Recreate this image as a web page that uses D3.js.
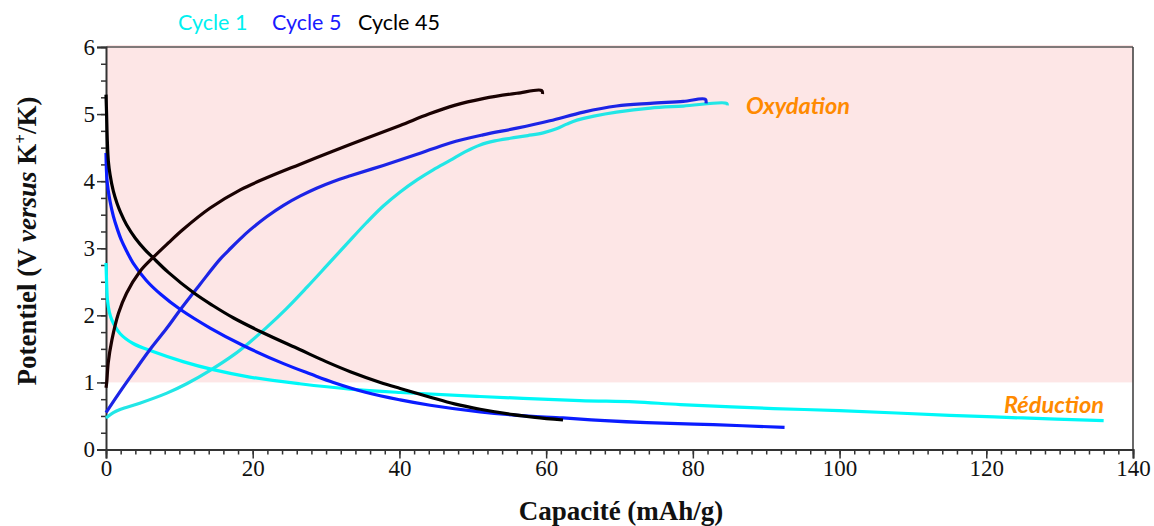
<!DOCTYPE html>
<html><head><meta charset="utf-8">
<script src="https://cdn.jsdelivr.net/npm/d3@7"></script>
<style>html,body{margin:0;padding:0;background:#fff;}</style>
</head><body>
<svg id="chart" width="1154" height="526"></svg>
<script>
// ---- data ----
const xTicks = [0, 20, 40, 60, 80, 100, 120, 140];
const yTicks = [0, 1, 2, 3, 4, 5, 6];
const legendLabels = ["Cycle 1", "Cycle 5", "Cycle 45"];

const cycle1Charge = [[0,0.47],[1,0.55],[2,0.60],[4.6,0.69],[8.3,0.84],[11,0.98],[14.2,1.18],[17.4,1.41],[19.6,1.60],[21.9,1.82],[24.6,2.10],[27.4,2.42],[30.1,2.74],[32.7,3.05],[35.5,3.38],[37.8,3.63],[40.1,3.84],[42.4,4.02],[44.6,4.17],[46.9,4.31],[49,4.44],[51,4.54],[53,4.60],[55.1,4.64],[57.5,4.68],[59.6,4.72],[61.4,4.78],[62.8,4.85],[64.2,4.91],[66.5,4.97],[69.6,5.03],[74.2,5.09],[78.7,5.12],[84.6,5.16],[84.7,5.13]];
const cycle1Discharge = [[0,2.78],[0.08,2.5],[0.2,2.23],[0.45,2.05],[0.8,1.93],[1.9,1.73],[3.7,1.58],[6.4,1.46],[10.5,1.31],[14.6,1.19],[19.6,1.08],[26.4,0.98],[33.3,0.90],[40.1,0.85],[51,0.79],[64.6,0.73],[72,0.71],[78.3,0.67],[91,0.61],[100,0.58],[115,0.51],[125,0.47],[136,0.43]];
const cycle5Charge = [[0,0.55],[1.9,0.86],[3.7,1.14],[6,1.49],[8.3,1.81],[10.3,2.11],[12.8,2.46],[15.5,2.83],[17,3.0],[18.3,3.14],[19.6,3.27],[21.9,3.47],[24.2,3.64],[26.5,3.78],[28.7,3.895],[31,3.995],[33.3,4.08],[37.8,4.235],[42.4,4.40],[46.9,4.57],[51.4,4.69],[56,4.79],[60.5,4.90],[65.1,5.03],[69.6,5.12],[74.2,5.16],[78.7,5.19],[81.7,5.22],[81.8,5.16]];
const cycle5Discharge = [[0,4.42],[0.15,4.0],[0.55,3.70],[1.0,3.48],[1.5,3.30],[2.1,3.12],[2.8,2.96],[3.7,2.78],[5.5,2.52],[7.5,2.31],[10.1,2.09],[14.2,1.81],[18.7,1.55],[24.2,1.28],[28,1.12],[31,1.0],[35.5,0.85],[40.1,0.74],[44.2,0.66],[51,0.56],[56,0.51],[62.3,0.47],[68,0.43],[73.7,0.40],[82.8,0.37],[92.5,0.33]];
const cycle45Charge = [[0,0.92],[0.1,1.0],[0.3,1.29],[0.8,1.63],[1.7,2.03],[2.8,2.33],[4.6,2.65],[6.4,2.86],[8.5,3.08],[10.5,3.28],[14.2,3.60],[18.3,3.87],[21.9,4.05],[26.4,4.25],[31,4.45],[35.5,4.64],[40.1,4.83],[44,5.0],[47.5,5.13],[51.4,5.23],[56,5.31],[59.4,5.35],[59.5,5.30]];
const cycle45Discharge = [[0,5.29],[0.08,5.0],[0.18,4.6],[0.32,4.3],[0.55,4.10],[1.0,3.85],[1.5,3.67],[2.0,3.53],[2.8,3.35],[4.0,3.15],[5.3,2.98],[6.4,2.86],[8.5,2.64],[11.9,2.34],[14.5,2.15],[17.4,1.96],[21.4,1.74],[26.4,1.49],[30,1.31],[33.3,1.16],[37.4,1.0],[40.1,0.91],[44.2,0.78],[47.5,0.68],[51,0.60],[55.5,0.52],[58.5,0.48],[62.3,0.44]];

const oxidationZone = [1, 6];
const xDomain = [0, 140];
const yDomain = [0, 6];

// ---- layout ----
const svg = d3.select("#chart");
const W = 1154, H = 526;
const m = {left:106, right:W-1133, top:47, bottom:H-449.5};
const x = d3.scaleLinear().domain(xDomain).range([m.left, W - m.right]);
const y = d3.scaleLinear().domain(yDomain).range([H - m.bottom, m.top]);

svg.append("rect")
  .attr("x", x(xDomain[0]) + 1).attr("y", y(oxidationZone[1]) - 2)
  .attr("width", x(xDomain[1]) - x(xDomain[0]) - 1)
  .attr("height", y(oxidationZone[0]) - y(oxidationZone[1]) + 2)
  .attr("fill", "#fde6e6");

svg.append("line").attr("x1", x(0)).attr("x2", x(140)).attr("y1", y(6)).attr("y2", y(6))
  .attr("stroke", "#555").attr("stroke-width", 1.6);
svg.append("line").attr("x1", x(140)).attr("x2", x(140)).attr("y1", y(6)).attr("y2", y(0))
  .attr("stroke", "#444").attr("stroke-width", 1.6);

const axisColor = "#333";
const xMinor = d3.range(0, 141, 2);
const yMinor = d3.range(0, 6.01, 0.25);
const gx = svg.append("g").attr("transform", `translate(0,${y(0)})`);
gx.call(d3.axisBottom(x).tickValues(xMinor).tickSize(5).tickFormat(""));
gx.call(g => g.select(".domain").remove());
const gx2 = svg.append("g").attr("transform", `translate(0,${y(0)})`);
gx2.call(d3.axisBottom(x).tickValues(xTicks).tickSize(9).tickPadding(1).tickFormat(d3.format("d")));
const gy = svg.append("g").attr("transform", `translate(${x(0)},0)`);
gy.call(d3.axisLeft(y).tickValues(yMinor).tickSize(5).tickFormat(""));
gy.call(g => g.select(".domain").remove());
const gy2 = svg.append("g").attr("transform", `translate(${x(0)},0)`);
gy2.call(d3.axisLeft(y).tickValues(yTicks).tickSize(9).tickPadding(2).tickFormat(d3.format("d")));
svg.selectAll(".domain").attr("stroke", axisColor).attr("stroke-width", 2);
svg.selectAll(".tick line").attr("stroke", axisColor).attr("stroke-width", 1.5);
svg.selectAll(".tick text").attr("fill", "#111")
  .style("font-family", "'Liberation Serif','Times New Roman',serif").style("font-size", "23px");

const line = d3.line().x(d => x(d[0])).y(d => y(d[1])).curve(d3.curveCatmullRom.alpha(0.5));
const series = [
  {d: cycle1Charge, c: "#22e6e6"},
  {d: cycle1Discharge, c: "#00f8f8"},
  {d: cycle5Charge, c: "#1c24e6"},
  {d: cycle5Discharge, c: "#0a1cff"},
  {d: cycle45Discharge, c: "#000000"},
  {d: cycle45Charge, c: "#1a0202"}
];
series.forEach(s => {
  svg.append("path").datum(s.d).attr("d", line)
    .attr("fill", "none").attr("stroke", s.c).attr("stroke-width", 3.2)
    .attr("stroke-linejoin", "round").attr("stroke-linecap", "butt");
});

const legX = [178, 272, 358];
legendLabels.forEach((t, i) => {
  svg.append("text").attr("x", legX[i]).attr("y", 30).text(t)
    .attr("fill", ["#00f0f0", "#1a1aff", "#000"][i])
    .style("font-family", "Lato, 'Open Sans', sans-serif").style("font-size", "21.5px");
});

const zoneFont = "Lato, 'Open Sans', sans-serif";
svg.append("text").attr("x", 746).attr("y", 114).text("Oxydation")
  .attr("fill", "#ff8a00").style("font-family", zoneFont).style("font-size", "23.5px")
  .style("font-weight", "bold").style("font-style", "italic");
svg.append("text").attr("x", 1104).attr("y", 413).attr("text-anchor", "end").text("Réduction")
  .attr("fill", "#ff8a00").style("font-family", zoneFont).style("font-size", "23.5px")
  .style("font-weight", "bold").style("font-style", "italic");

svg.append("text").attr("x", 621).attr("y", 520).attr("text-anchor", "middle")
  .text("Capacité (mAh/g)")
  .style("font-family", "'Liberation Serif','Times New Roman',serif")
  .style("font-size", "27px").style("font-weight", "bold").attr("fill", "#111");

const yt = svg.append("text").attr("transform", "translate(36,241) rotate(-90)")
  .attr("text-anchor", "middle")
  .style("font-family", "'Liberation Serif','Times New Roman',serif")
  .style("font-size", "27px").style("font-weight", "bold").attr("fill", "#111");
yt.append("tspan").text("Potentiel (V ");
yt.append("tspan").text("versus").style("font-style", "italic");
yt.append("tspan").text(" K");
yt.append("tspan").text("+").attr("dy", -10).style("font-size", "17px");
yt.append("tspan").text("/K)").attr("dy", 10);
</script>
</body></html>
